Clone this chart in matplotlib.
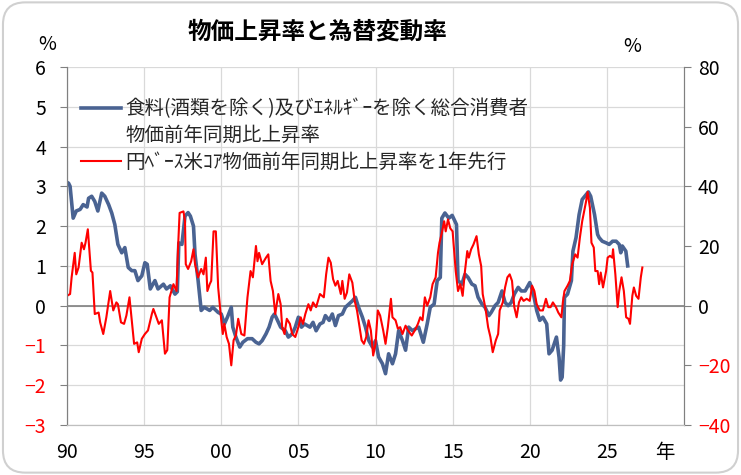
import matplotlib
matplotlib.use("Agg")
import matplotlib.pyplot as plt
from matplotlib.patches import FancyBboxPatch
from matplotlib.lines import Line2D

plt.rcParams['font.family'] = ['Noto Sans CJK JP', 'DejaVu Sans']

# 食料(酒類を除く)及びエネルギーを除く総合 CPI (left axis, %)
blue_year = [1990.0, 1990.1, 1990.2, 1990.4, 1990.6, 1990.85, 1991.05, 1991.3, 1991.4, 1991.6,
             1991.8, 1992.0, 1992.25, 1992.45, 1992.7, 1992.9, 1993.1, 1993.3, 1993.55, 1993.75,
             1993.97, 1994.2, 1994.4, 1994.6, 1994.85, 1995.05, 1995.2, 1995.4, 1995.7, 1995.9,
             1996.25, 1996.45, 1996.7, 1997.0, 1997.15, 1997.25, 1997.45, 1997.65, 1997.85, 1998.0,
             1998.2, 1998.3, 1998.5, 1998.7, 1998.9, 1999.25, 1999.45, 1999.8, 2000.0, 2000.2,
             2000.4, 2000.65, 2000.75, 2000.95, 2001.2, 2001.4, 2001.7, 2002.0, 2002.25, 2002.45,
             2002.65, 2002.9, 2003.1, 2003.3, 2003.45, 2003.6, 2003.85, 2004.15, 2004.35, 2004.6,
             2004.8, 2005.0, 2005.2, 2005.4, 2005.75, 2005.95, 2006.15, 2006.4, 2006.6, 2006.75,
             2007.0, 2007.2, 2007.4, 2007.6, 2007.85, 2008.05, 2008.27, 2008.5, 2008.7, 2008.9,
             2009.15, 2009.35, 2009.57, 2009.8, 2010.0, 2010.2, 2010.45, 2010.65, 2010.85, 2011.1,
             2011.3, 2011.5, 2011.75, 2011.95, 2012.15, 2012.4, 2012.6, 2012.8, 2013.1, 2013.35,
             2013.55, 2013.8, 2014.0, 2014.2, 2014.3, 2014.5, 2014.75, 2014.97, 2015.25, 2015.35,
             2015.6, 2015.8, 2016.0, 2016.25, 2016.45, 2016.65, 2016.9, 2017.1, 2017.35, 2017.5,
             2017.75, 2017.95, 2018.2, 2018.4, 2018.6, 2018.8, 2019.0, 2019.25, 2019.45, 2019.7,
             2020.0, 2020.2, 2020.45, 2020.65, 2020.85, 2021.1, 2021.25, 2021.45, 2021.73, 2021.9,
             2022.0, 2022.1, 2022.2, 2022.25, 2022.45, 2022.7, 2022.8, 2023.0, 2023.2, 2023.4,
             2023.65, 2023.8, 2023.95, 2024.2, 2024.4, 2024.5, 2024.7, 2024.95, 2025.15, 2025.37,
             2025.6, 2025.8, 2025.9, 2026.0, 2026.23, 2026.35]
blue_val = [3.1, 3.08, 3.0, 2.2, 2.38, 2.42, 2.54, 2.48, 2.7, 2.75,
            2.62, 2.38, 2.83, 2.75, 2.54, 2.33, 2.04, 1.54, 1.33, 1.46,
            0.96, 0.88, 0.88, 0.63, 0.75, 1.08, 1.04, 0.42, 0.63, 0.42,
            0.54, 0.42, 0.5, 0.29, 0.35, 1.58, 1.54, 2.25, 2.34, 2.25,
            2.0, 1.29, 0.63, -0.12, -0.04, -0.12, -0.04, -0.17, -0.21, -0.46,
            -0.29, -0.04, -0.54, -0.79, -1.04, -0.92, -0.83, -0.83, -0.92, -0.96,
            -0.88, -0.71, -0.54, -0.29, -0.21, -0.33, -0.54, -0.63, -0.79, -0.71,
            -0.54, -0.29, -0.54, -0.46, -0.54, -0.42, -0.63, -0.46, -0.42, -0.25,
            -0.37, -0.21, -0.5, -0.25, -0.21, -0.04, 0.04, 0.12, 0.21, -0.04,
            -0.29, -0.54, -0.88, -1.04, -0.88, -1.29, -1.46, -1.71, -1.21, -1.46,
            -1.21, -0.63, -0.88, -1.12, -0.54, -0.63, -0.58, -0.54, -0.92, -0.46,
            -0.04, 0.04, 0.63, 0.71, 2.2, 2.33, 2.2, 2.27, 2.04, 0.63,
            0.54, 0.79, 0.71, 0.54, 0.5, 0.21, 0.04, -0.04, -0.25, -0.17,
            0.0, 0.08, 0.37, 0.08, 0.0, 0.08, 0.29, 0.46, 0.37, 0.37,
            0.58, 0.37, -0.12, -0.37, -0.29, -0.46, -1.21, -1.12, -0.79, -1.3,
            -1.87, -1.8, -1.0, 0.21, 0.29, 0.63, 1.37, 1.71, 2.29, 2.67,
            2.79, 2.86, 2.75, 2.29, 1.79, 1.71, 1.62, 1.58, 1.54, 1.62,
            1.62, 1.54, 1.33, 1.5, 1.37, 1.0]

# 円ベース米コア物価 (1年先行, right axis, %)
red_year = [1990.0, 1990.2, 1990.3, 1990.5, 1990.6, 1990.75, 1990.95, 1991.1, 1991.2, 1991.35,
            1991.55, 1991.65, 1991.8, 1992.05, 1992.15, 1992.35, 1992.55, 1992.8, 1993.0, 1993.2,
            1993.3, 1993.5, 1993.7, 1993.85, 1994.05, 1994.2, 1994.35, 1994.55, 1994.65, 1994.85,
            1995.05, 1995.25, 1995.5, 1995.6, 1995.8, 1995.95, 1996.15, 1996.35, 1996.5, 1996.65,
            1996.9, 1997.1, 1997.2, 1997.3, 1997.55, 1997.65, 1997.7, 1997.85, 1998.05, 1998.2,
            1998.3, 1998.5, 1998.7, 1998.85, 1999.0, 1999.1, 1999.25, 1999.35, 1999.5, 1999.65,
            1999.8, 2000.0, 2000.1, 2000.2, 2000.35, 2000.5, 2000.65, 2000.8, 2000.95, 2001.1,
            2001.3, 2001.5, 2001.7, 2001.9, 2002.05, 2002.25, 2002.35, 2002.45, 2002.65, 2002.9,
            2003.05, 2003.2, 2003.35, 2003.5, 2003.7, 2003.85, 2003.95, 2004.1, 2004.25, 2004.45,
            2004.6, 2004.8, 2005.0, 2005.15, 2005.3, 2005.45, 2005.65, 2005.8, 2005.95, 2006.15,
            2006.4, 2006.65, 2006.8, 2006.95, 2007.1, 2007.25, 2007.4, 2007.55, 2007.75, 2007.85,
            2008.0, 2008.15, 2008.3, 2008.5, 2008.65, 2008.8, 2008.9, 2009.1, 2009.25, 2009.4,
            2009.55, 2009.7, 2009.85, 2010.0, 2010.15, 2010.3, 2010.5, 2010.65, 2010.8, 2011.0,
            2011.1, 2011.3, 2011.45, 2011.6, 2011.75, 2011.95, 2012.1, 2012.35, 2012.55, 2012.75,
            2012.9, 2013.05, 2013.2, 2013.35, 2013.55, 2013.7, 2013.9, 2014.05, 2014.15, 2014.3,
            2014.45, 2014.55, 2014.7, 2014.85, 2015.0, 2015.2, 2015.35, 2015.5, 2015.65, 2015.8,
            2015.95, 2016.05, 2016.2, 2016.35, 2016.55, 2016.7, 2016.85, 2016.95, 2017.15, 2017.3,
            2017.45, 2017.6, 2017.8, 2017.95, 2018.05, 2018.25, 2018.4, 2018.55, 2018.7, 2018.85,
            2019.0, 2019.15, 2019.3, 2019.45, 2019.6, 2019.8, 2020.0, 2020.15, 2020.3, 2020.45,
            2020.65, 2020.85, 2021.05, 2021.2, 2021.35, 2021.5, 2021.7, 2021.85, 2022.05, 2022.15,
            2022.25, 2022.45, 2022.6, 2022.75, 2022.95, 2023.1, 2023.25, 2023.4, 2023.65, 2023.75,
            2023.9, 2024.0, 2024.15, 2024.25, 2024.4, 2024.5, 2024.6, 2024.75, 2024.95, 2025.05,
            2025.2, 2025.35, 2025.4, 2025.55, 2025.7, 2025.8, 2025.95, 2026.1, 2026.25, 2026.4,
            2026.5, 2026.65, 2026.75, 2026.9, 2027.05, 2027.2, 2027.3]
red_val = [3.3, 3.9, 9.5, 17.7, 10.5, 12.8, 21.1, 18.9, 21.1, 25.6,
           11.7, 11.1, -2.8, -2.3, -5.6, -9.5, -3.9, 4.9, -1.6, 1.1,
           0.5, -5.6, -6.1, -3.3, 2.8, -4.9, -12.8, -12.3, -15.6, -11.1,
           -9.5, -8.3, -2.8, -1.1, -3.9, -6.1, -4.9, -16.1, -14.9, 2.8,
           7.2, 4.9, 19.5, 31.1, 31.6, 28.3, 13.9, 12.3, 14.9, 18.9,
           13.9, 9.5, 12.3, 10.5, 16.1, 4.9, 7.2, 8.3, 24.9, 24.9,
           6.1, -4.9, -9.5, -6.1, -10.5, -12.8, -20.0, -11.6, -10.0, -4.4,
           -9.5, -10.0, 2.8, 11.6, 9.5, 20.0, 14.9, 17.7, 13.9, 16.1,
           17.2, 8.3, 4.9, -2.8, 3.9, 0.5, -7.2, -9.5, -4.4, -6.1,
           -9.5, -10.5, -7.2, -3.9, -6.1, -2.8, 0.5, -1.6, 1.1, -0.5,
           3.9, 2.8, 10.5, 16.1, 14.4, 8.9, 6.7, 8.3, 3.9, 8.3,
           2.3, 4.4, 10.5, 7.7, 1.6, -1.6, -4.9, -11.6, -12.8, -10.5,
           -4.9, -8.3, -16.7, -12.8, -1.6, -3.3, -8.3, -12.8, -7.2, 2.3,
           -3.9, -4.9, -7.7, -7.2, -9.5, -6.7, -8.3, -10.0, -8.3, -6.1,
           -3.9, -4.9, 2.8, 0.0, 2.8, 7.2, 9.5, 17.7, 21.1, 24.4,
           28.3, 24.9, 28.9, 25.9, 24.9, 11.6, 4.9, 7.2, 3.3, 11.6,
           18.3, 16.1, 18.9, 20.5, 23.3, 17.2, 13.3, 3.9, -1.6, -7.2,
           -10.5, -15.6, -11.6, -9.5, -1.6, 1.1, 6.1, 9.5, 10.5, 8.3,
           -0.5, -3.9, 1.1, 2.8, 1.6, 2.3, 1.6, 6.7, 4.9, 0.5,
           -1.6, -1.6, 2.3, -0.5, -0.5, 1.1, -0.5, -2.3, -3.9, 1.3,
           4.9, 6.7, 8.3, 13.9, 17.2, 16.1, 22.8, 28.3, 34.9, 38.1,
           32.8, 21.1, 19.5, 11.6, 11.6, 7.2, 11.1, 6.1, 11.6, 16.1,
           16.7, 16.1, 18.9, 10.5, -0.5, 4.9, 9.5, 4.9, -3.9, -4.4,
           -6.1, 3.3, 6.1, 3.3, 2.3, 9.5, 12.8]

left_ticks = [-3, -2, -1, 0, 1, 2, 3, 4, 5, 6]
right_ticks = [-40, -20, 0, 20, 40, 60, 80]
year_ticks = [1990, 1995, 2000, 2005, 2010, 2015, 2020, 2025]
year_labels = ['90', '95', '00', '05', '10', '15', '20', '25']

label_blue = ['食料(酒類を除く)及びｴﾈﾙｷﾞｰを除く総合消費者', '物価前年同期比上昇率']
label_red = '円ﾍﾞｰｽ米ｺｱ物価前年同期比上昇率を1年先行'

fig = plt.figure(figsize=(7.41, 4.75), dpi=100)
fig.patches.append(FancyBboxPatch((0.004, 0.005), 0.992, 0.99, boxstyle='round,pad=0,rounding_size=0.03',
                                  transform=fig.transFigure, facecolor='white', edgecolor='#d0d0d0',
                                  linewidth=1.5, mutation_aspect=741 / 475, zorder=-5))

ax = fig.add_axes([67 / 741, 1 - 425 / 475, 617 / 741, 358 / 475])
ax2 = ax.twinx()
ax.patch.set_visible(False)
ax2.patch.set_visible(False)

grid_c = '#d9d9d9'
ax.set_xlim(1990, 2030)
ax.set_ylim(-3, 6)
ax2.set_ylim(-40, 80)
ax.set_yticks(left_ticks)
ax2.set_yticks(right_ticks)
ax.set_xticks(year_ticks)
ax.set_xticklabels(year_labels)
ax.grid(True, color=grid_c, linewidth=0.9)
ax.set_axisbelow(True)
ax.axhline(0, color='#808080', linewidth=1.2, zorder=1)

for a in (ax, ax2):
    a.spines['top'].set_visible(False)
    a.spines['left'].set_color('#808080')
    a.spines['right'].set_color('#808080')
    a.spines['bottom'].set_color('#bfbfbf')
ax.tick_params(axis='y', length=5, color='#808080', labelsize=14, pad=10)
ax.tick_params(axis='x', length=0, labelsize=14, pad=12)
ax2.tick_params(axis='y', length=5, color='#808080', labelsize=14, pad=5)
for t, v in zip(ax.get_yticklabels(), left_ticks):
    t.set_color('#ff0000' if v < 0 else 'black')
for t, v in zip(ax2.get_yticklabels(), right_ticks):
    t.set_color('#ff0000' if v < 0 else 'black')

l1, = ax.plot(blue_year, blue_val, color='#4a6392', linewidth=2.6)
l2, = ax2.plot(red_year, red_val, color='#ff0000', linewidth=1.5)
blank = Line2D([], [], color='none')

ax2.legend(handles=[l1, blank, l2], labels=[label_blue[0], label_blue[1], label_red],
           loc='upper left', bbox_to_anchor=(0.0, 0.95), frameon=False,
           fontsize=14, handlelength=2.1, handletextpad=0.2, labelspacing=0.28, borderaxespad=0.3)
for t in ax2.get_legend().get_texts():
    t.set_color('#262626')

fig.text(318 / 741, 1 - 32 / 475, '物価上昇率と為替変動率', ha='center', va='center',
         fontsize=17, fontweight='bold')
fig.text(47 / 741, 1 - 45 / 475, '%', ha='center', va='center', fontsize=14)
fig.text(632 / 741, 1 - 46 / 475, '%', ha='center', va='center', fontsize=14)
fig.text(665 / 741, 1 - 452 / 475, '年', ha='center', va='center', fontsize=14)

fig.savefig('out.png', dpi=100)
